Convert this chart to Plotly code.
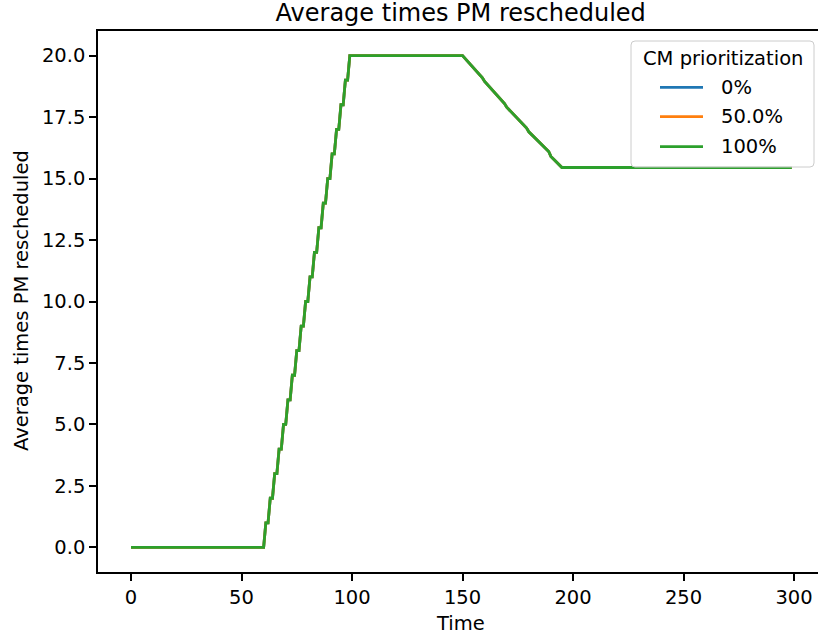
import plotly.graph_objects as go

# ---- data ----
series_names = ["0%", "50.0%", "100%"]
series_colors = ["#1f77b4", "#ff7f0e", "#2ca02c"]
legend_title = "CM prioritization"

time_points = [0, 60, 61, 62, 63, 64, 65, 66, 67, 68, 69, 70, 71, 72, 73, 74, 75, 76, 77, 78, 79,
               80, 81, 82, 83, 84, 85, 86, 87, 88, 89, 90, 91, 92, 93, 94, 95, 96, 97, 98, 99,
               150, 159, 160, 169, 170, 179, 180, 189, 190, 195, 299]
avg_rescheduled = [0, 0, 1, 1, 2, 2, 3, 3, 4, 4, 5, 5, 6, 6, 7, 7, 8, 8, 9, 9, 10,
                   10, 11, 11, 12, 12, 13, 13, 14, 14, 15, 15, 16, 16, 17, 17, 18, 18, 19, 19, 20,
                   20.0, 19.1, 18.95, 18.05, 17.9, 17.05, 16.9, 16.1, 15.9, 15.45, 15.45]

# all three settings give the same curve (only the last drawn is visible)
series_values = [avg_rescheduled, avg_rescheduled, avg_rescheduled]

x_ticks = [0, 50, 100, 150, 200, 250, 300]
y_ticks = [0.0, 2.5, 5.0, 7.5, 10.0, 12.5, 15.0, 17.5, 20.0]

FONT = "DejaVu Sans"
FS = 19.5
LW = 2.8

fig = go.Figure()
for name, color, vals in zip(series_names, series_colors, series_values):
    fig.add_trace(go.Scatter(
        x=time_points, y=vals, mode="lines", name=name,
        line=dict(color=color, width=LW), showlegend=False,
    ))

L, T, B = 98, 31, 67
W, H = 818, 639
pw = W - L
ph = H - T - B


def px(xpix):
    return (xpix - L) / pw


def py(ypix):
    return (H - B - ypix) / ph


# ---- legend (matplotlib-style, drawn as layout decoration) ----
lx0, lx1, ly0, ly1, r = 631, 814, 41, 167, 4
path = (f"M {px(lx0 + r)},{py(ly0)} L {px(lx1 - r)},{py(ly0)} "
        f"Q {px(lx1)},{py(ly0)} {px(lx1)},{py(ly0 + r)} "
        f"L {px(lx1)},{py(ly1 - r)} Q {px(lx1)},{py(ly1)} {px(lx1 - r)},{py(ly1)} "
        f"L {px(lx0 + r)},{py(ly1)} Q {px(lx0)},{py(ly1)} {px(lx0)},{py(ly1 - r)} "
        f"L {px(lx0)},{py(ly0 + r)} Q {px(lx0)},{py(ly0)} {px(lx0 + r)},{py(ly0)} Z")
shapes = [dict(type="path", path=path, xref="paper", yref="paper", layer="above",
               fillcolor="rgba(255,255,255,0.8)", line=dict(color="#cccccc", width=1))]
annotations = [dict(text=legend_title, xref="paper", yref="paper", x=px((lx0 + lx1) / 2), y=py(59),
                    xanchor="center", yanchor="middle", showarrow=False,
                    font=dict(family=FONT, size=FS, color="black"))]
entry_y = [87.3, 116.7, 146.7]
for name, color, ey in zip(series_names, series_colors, entry_y):
    shapes.append(dict(type="line", xref="paper", yref="paper", layer="above",
                       x0=px(660), x1=px(703), y0=py(ey), y1=py(ey),
                       line=dict(color=color, width=LW)))
    annotations.append(dict(text=name, xref="paper", yref="paper", x=px(718.5), y=py(ey),
                            xanchor="left", yanchor="middle", showarrow=False,
                            font=dict(family=FONT, size=FS, color="black")))

annotations += [
    dict(text="Time", xref="paper", yref="paper", x=px(460), y=py(623),
         xanchor="center", yanchor="middle", showarrow=False,
         font=dict(family=FONT, size=FS, color="black")),
    dict(text="Average times PM rescheduled", xref="paper", yref="paper",
         x=px(21), y=py(301), textangle=-90,
         xanchor="center", yanchor="middle", showarrow=False,
         font=dict(family=FONT, size=FS, color="black")),
]

fig.update_layout(
    width=W, height=H,
    margin=dict(l=L, r=0, t=T, b=B, pad=0),
    paper_bgcolor="white", plot_bgcolor="white",
    font=dict(family=FONT, size=FS, color="black"),
    title=dict(text="Average times PM rescheduled", font=dict(size=24, family=FONT, color="black"),
               x=px(460.7), xanchor="center", xref="paper",
               y=1 - 12.5 / H, yanchor="middle", yref="container"),
    showlegend=False,
    xaxis=dict(
        range=[-14.95, (W - 131.7) / 2.2077],
        tickmode="array", tickvals=x_ticks, ticktext=[str(v) for v in x_ticks],
        ticks="outside", ticklen=7, tickwidth=1.5, tickcolor="black",
        showline=True, linewidth=1.5, linecolor="black", mirror=True,
        showgrid=False, zeroline=False,
        tickfont=dict(family=FONT, size=FS, color="black"),
    ),
    yaxis=dict(
        range=[-1, 21],
        tickmode="array", tickvals=y_ticks, ticktext=[f"{v:.1f}" for v in y_ticks],
        ticks="outside", ticklen=7, tickwidth=1.5, tickcolor="black",
        showline=True, linewidth=1.5, linecolor="black", mirror=False,
        showgrid=False, zeroline=False,
        tickfont=dict(family=FONT, size=FS, color="black"),
    ),
    shapes=shapes,
    annotations=annotations,
)

fig.write_html("out.html")
